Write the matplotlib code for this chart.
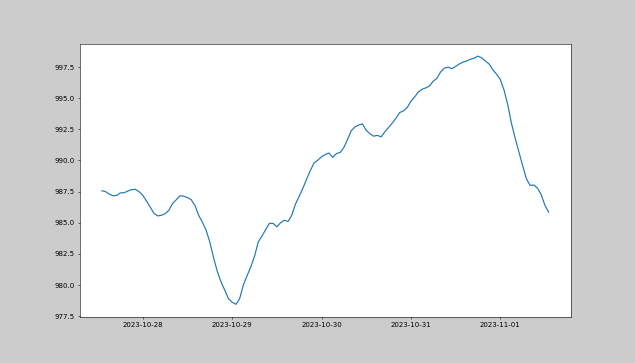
import matplotlib
matplotlib.use("Agg")
import matplotlib.pyplot as plt
import pandas as pd
import numpy as np

start_time = "2023-10-27 13:00"
n_hours = 121
pressure = [
    987.57, 987.50, 987.30, 987.17, 987.20, 987.40, 987.41, 987.55, 987.66, 987.68,
    987.50, 987.20, 986.75, 986.25, 985.75, 985.55, 985.60, 985.73, 986.00, 986.55,
    986.85, 987.17, 987.13, 987.02, 986.85, 986.40, 985.60, 985.05, 984.40, 983.45,
    982.20, 981.10, 980.25, 979.60, 978.90, 978.62, 978.45, 978.90, 980.00, 980.75,
    981.45, 982.30, 983.45, 983.93, 984.45, 984.95, 984.95, 984.67, 985.00, 985.20,
    985.10, 985.60, 986.50, 987.12, 987.78, 988.50, 989.20, 989.80, 990.02, 990.30,
    990.48, 990.60, 990.25, 990.56, 990.64, 991.05, 991.70, 992.40, 992.70, 992.85,
    992.94, 992.42, 992.15, 991.95, 992.02, 991.90, 992.30, 992.65, 993.00, 993.40,
    993.85, 993.98, 994.25, 994.75, 995.10, 995.50, 995.72, 995.83, 995.98, 996.37,
    996.60, 997.12, 997.42, 997.50, 997.37, 997.55, 997.75, 997.90, 998.00, 998.13,
    998.22, 998.38, 998.25, 998.00, 997.75, 997.30, 996.93, 996.52, 995.67, 994.50,
    993.00, 991.80, 990.70, 989.60, 988.55, 988.00, 988.03, 987.78, 987.25, 986.40,
    985.85,
]

times = pd.date_range(start_time, periods=n_hours, freq="h")

fig = plt.figure(figsize=(12.7, 7.26), dpi=50, facecolor="#cccccc")
ax = fig.add_axes([0.1252, 0.1275, 0.774, 0.752])
ax.plot(times, pressure, color="#1f77b4", linewidth=1.7)
ax.set_facecolor("white")
fig.savefig("out.png", dpi=50, facecolor=fig.get_facecolor())
